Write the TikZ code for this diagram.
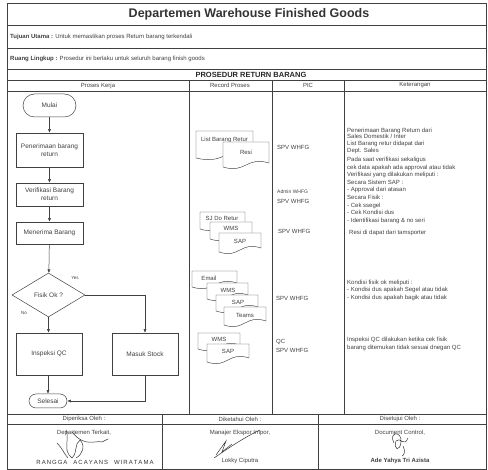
\documentclass[tikz,border=0pt]{standalone}
\usepackage{fontspec}
\setmainfont{Liberation Sans}
\usetikzlibrary{shapes.geometric,arrows.meta}
\tikzset{
  frame/.style={draw=black!75, line width=0.5pt},
  small/.style={font=\fontsize{6}{7.2}\selectfont, text=black!75, inner sep=0pt},
  tiny/.style={font=\fontsize{5}{6}\selectfont, text=black!75, inner sep=0pt},
  proc/.style={draw=black!75, line width=0.5pt, rectangle, minimum width=67pt, font=\fontsize{6.5}{8}\selectfont, text=black!75, align=center, inner sep=1pt},
  term/.style={draw=black!75, line width=0.5pt, rectangle, font=\fontsize{6.5}{8}\selectfont, text=black!75, inner sep=1pt},
  decis/.style={draw=black!75, line width=0.5pt, diamond, minimum width=73pt, minimum height=44pt, inner sep=0pt, font=\fontsize{6.5}{8}\selectfont, text=black!75},
  flow/.style={draw=black!75, line width=0.5pt, -{Latex[length=3.5pt,width=3pt]}},
  docline/.style={draw=black!75, line width=0.45pt, fill=white},
  doctext/.style={font=\fontsize{6}{7}\selectfont, text=black!75, inner sep=0pt},
  sig/.style={draw=black!80, line width=0.5pt, line cap=round}
}
\newcommand\docbox[7]{%
  \draw[docline] (#2,#3) -- (#4,#3) -- (#4,#5-4)
    .. controls ({(#2+#4)/2},#5-11) and ({(#2+#4)/2},#5+7) .. (#2,#5) -- cycle;
  \node[doctext] (#1) at #6 {#7};}
\begin{document}
\begin{tikzpicture}[x=1pt,y=-1pt]
\useasboundingbox (0,0) rectangle (488,470);
% outer frame and rows
\draw[frame] (7,3) rectangle (486,469.5);
\draw[frame] (7,25) -- (486,25);
\draw[frame] (7,48) -- (486,48);
\draw[frame] (7,69) -- (486,69);
\draw[frame] (7,80) -- (486,80);
\draw[frame] (7,91) -- (486,91);
\draw[frame] (189,80) -- (189,414);
\draw[frame] (272,80) -- (272,414);
\draw[frame] (344,80) -- (344,414);
\draw[frame] (7,414) -- (486,414);
\draw[frame] (7,424) -- (486,424);
\draw[frame] (162,414) -- (162,469.5);
\draw[frame] (318,414) -- (318,469.5);

% header texts
\node[font=\bfseries\fontsize{12.5}{14}\selectfont, text=black!80] (title) at (249,14) {Departemen Warehouse Finished Goods};
\node[small, anchor=west] (tujuan) at (10,37) {\textbf{Tujuan Utama :} Untuk memastikan proses Return barang terkendali};
\node[small, anchor=west] (ruang) at (10,59) {\textbf{Ruang Lingkup :} Prosedur ini berlaku untuk seluruh barang finish goods};
\node[font=\bfseries\fontsize{7.5}{9}\selectfont, text=black!85] (prosedur) at (251,74.5) {PROSEDUR RETURN BARANG};
\node[small] (h1) at (98,85.5) {Proses Kerja};
\node[small] (h2) at (230,85.5) {Record Proses};
\node[small] (h3) at (308,85.5) {PIC};
\node[small] (h4) at (415,85.5) {Keterangan};

% flowchart
\node[term, minimum width=53pt, minimum height=23pt, rounded corners=11.5pt] (mulai) at (49.5,105.5) {Mulai};
\node[proc, minimum height=34pt] (terima) at (49.5,150) {Penerimaan barang\\return};
\node[proc, minimum height=23pt] (verif) at (49.5,194.5) {Verifikasi Barang\\return};
\node[proc, minimum height=22pt] (menerima) at (49.5,233) {Menerima Barang};
\node[decis] (fisik) at (48.5,295) {Fisik Ok ?};
\node[proc, minimum width=66pt, minimum height=42pt] (qc) at (49,354) {Inspeksi QC};
\node[proc, minimum width=66pt, minimum height=42pt] (stock) at (145,354) {Masuk Stock};
\node[term, minimum width=38pt, minimum height=14pt, rounded corners=7pt] (selesai) at (48,401) {Selesai};
\node[tiny, font=\fontsize{4.5}{5}\selectfont] (yes) at (75,278) {Yes};
\node[tiny, font=\fontsize{4.5}{5}\selectfont] (no) at (24,313) {No};

\draw[flow] (mulai) -- (terima);
\draw[flow] (terima) -- (verif);
\draw[flow] (verif) -- (menerima);
\draw[flow] (menerima) -- (fisik);
\draw[flow] (fisik.east) -| (stock.north);
\draw[flow] (fisik.south) -- (fisik.south |- qc.north);
\draw[flow] (qc.south -| selesai.north) -- (selesai.north);
\draw[flow] (stock.south) |- (selesai.east);

% record proses documents
\docbox{d1}{196}{131}{253}{158}{(224.5,140)}{List Barang Retur}
\docbox{d2}{223}{142}{269}{167}{(246,152)}{Resi}
\docbox{d3}{200}{212}{245}{229}{(222,218)}{SJ Do Retur}
\docbox{d4}{210}{222}{252}{239}{(231,228)}{WMS}
\docbox{d5}{219}{233}{261}{252}{(240,241)}{SAP}
\docbox{d6}{192}{271}{237}{287}{(209,278.5)}{Email}
\docbox{d7}{207}{283}{248}{299}{(228,290)}{WMS}
\docbox{d8}{216}{295}{258}{311}{(238,302)}{SAP}
\docbox{d9}{224}{307}{266}{325}{(245,315)}{Teams}
\docbox{d10}{198}{333}{240}{349}{(219,339)}{WMS}
\docbox{d11}{207}{344}{249}{362}{(228,351)}{SAP}

% PIC
\node[small, anchor=west] (p1) at (277,147) {SPV WHFG};
\node[tiny, anchor=west] (p2) at (277,192) {Admin WHFG};
\node[small, anchor=west] (p3) at (277,201) {SPV WHFG};
\node[small, anchor=west] (p4) at (278,231) {SPV WHFG};
\node[small, anchor=west] (p5) at (276,298) {SPV WHFG};
\node[small, anchor=west] (p6) at (276,342) {QC};
\node[small, anchor=west] (p7) at (276,350) {SPV WHFG};

% keterangan
\node[small, font=\fontsize{6}{6.8}\selectfont, anchor=north west, align=left] (k1) at (347,127.5) {Penerimaan Barang Return dari\\Sales Domestik / Inter\\List Barang retur didapat dari\\Dept. Sales};
\node[small, font=\fontsize{6}{7.6}\selectfont, anchor=north west, align=left] (k2) at (347,157) {Pada saat verifikasi sekaligus\\cek data apakah ada approval atau tidak\\Verifikasi yang dilakukan meliputi :\\Secara Sistem SAP :\\- Approval dari atasan\\Secara Fisik :\\- Cek ssegel\\- Cek Kondisi dus\\- Identifikasi barang \& no seri};
\node[small, anchor=base west] (k3) at (349,235) {Resi di dapat dari tamsporter};
\node[small, font=\fontsize{6}{7.5}\selectfont, anchor=north west, align=left] (k4) at (347,279.5) {Kondisi fisik ok meliputi :\\- Kondisi dus apakah Segel atau tidak\\- Kondisi dus apakah bagik atau tidak};
\node[small, font=\fontsize{6}{8}\selectfont, anchor=north west, align=left] (k5) at (347,336.5) {Inspeksi QC dilakukan ketika cek fisik\\barang ditemukan tidak sesuai dnegan QC};

% signatures
\node[small] (s1) at (84,419) {Diperiksa Oleh :};
\node[small] (s2) at (240,419) {Diketahui Oleh :};
\node[small] (s3) at (400,419) {Disetujui Oleh :};
\node[small] (s4) at (84,433) {Departemen Terkait,};
\node[small] (s5) at (240,433) {Manajer Ekspor Impor,};
\node[small] (s6) at (400,433) {Document Control,};
\node[font=\fontsize{6}{7}\selectfont, text=black!80, inner sep=0pt] (s7) at (95,462) {R\,A\,N\,G\,G\,A\quad A\,C\,A\,Y\,A\,N\,S\quad W\,I\,R\,A\,T\,A\,M\,A};
\node[small] (s8) at (240,461) {Lokky Ciputra};
\node[small, font=\bfseries\fontsize{6}{7}\selectfont] (s9) at (400,461) {Ade Yahya Tri Azista};
% handwritten strokes
\draw[sig] (66,430) .. controls (70,440) and (62,450) .. (72,458) .. controls (78,452) and (74,444) .. (80,440) .. controls (86,446) and (82,455) .. (76,458);
\draw[sig] (57,443) .. controls (62,448) and (63,452) .. (68,458);
\draw[sig] (72,432) .. controls (85,448) and (95,440) .. (102,442);
\draw[sig] (102,442) -- (108,439);
\draw[sig] (214,458) .. controls (230,447) and (245,437) .. (260,430);
\draw[sig] (216,455) -- (226,441) -- (222,452) -- (232,444);
\draw[sig] (394,443) .. controls (388,432) and (402,430) .. (401,442) .. controls (400,452) and (393,450) .. (396,441) .. controls (400,436) and (404,448) .. (408,438);
\draw[sig] (403,446) .. controls (406,452) and (404,455) .. (402,456);
\end{tikzpicture}
\end{document}
